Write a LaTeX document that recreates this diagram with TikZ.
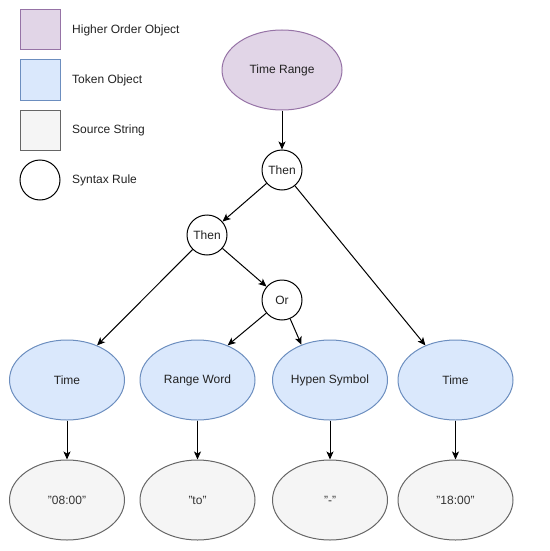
\documentclass[tikz,border=0pt]{standalone}
\usepackage{fontspec}
\setmainfont{Liberation Sans}
\usetikzlibrary{arrows.meta,shapes.geometric}
\definecolor{hoFill}{HTML}{E1D5E7}\definecolor{hoLine}{HTML}{9673A6}
\definecolor{tkFill}{HTML}{DAE8FC}\definecolor{tkLine}{HTML}{6C8EBF}
\definecolor{srFill}{HTML}{F5F5F5}\definecolor{srLine}{HTML}{666666}
\definecolor{txt}{HTML}{222222}
\begin{document}
\begin{tikzpicture}[x=1pt,y=-1pt,
  every node/.style={font=\fontsize{12}{14}\selectfont, text=txt},
  ell/.style={ellipse, draw, line width=1pt, minimum width=#1, minimum height=80pt, inner sep=0pt},
  ho/.style={ell=120pt, fill=hoFill, draw=hoLine},
  tk/.style={ell=115pt, fill=tkFill, draw=tkLine},
  sr/.style={ell=115pt, fill=srFill, draw=srLine, text=black!80},
  rule/.style={circle, draw, fill=white, line width=1pt, minimum size=40pt, inner sep=0pt},
  sq/.style={draw, line width=1pt, minimum size=40pt, inner sep=0pt},
  lbl/.style={anchor=west, inner sep=0pt},
  arr/.style={-{Stealth[length=8pt,width=7pt,inset=2pt]}, line width=1pt}]
\useasboundingbox (0,0) rectangle (549,551);
% legend
\node[sq, fill=hoFill, draw=hoLine] (lg1) at (40,30) {};
\node[sq, fill=tkFill, draw=tkLine] (lg2) at (40,80) {};
\node[sq, fill=srFill, draw=srLine] (lg3) at (40,130) {};
\node[rule] (lg4) at (40,180) {};
\node[lbl] (lt1) at (72,30) {Higher Order Object};
\node[lbl] (lt2) at (72,80) {Token Object};
\node[lbl] (lt3) at (72,130) {Source String};
\node[lbl] (lt4) at (72,180) {Syntax Rule};
% tree
\node[ho] (tr) at (282,70) {Time Range};
\node[rule] (then1) at (282,170) {Then};
\node[rule] (then2) at (207,235) {Then};
\node[rule] (or) at (282,300) {Or};
\node[tk] (time1) at (67,380) {Time};
\node[tk] (range) at (197.5,380) {Range Word};
\node[tk] (hyp) at (330,380) {Hypen Symbol};
\node[tk] (time2) at (455.5,380) {Time};
\node[sr] (s1) at (67,500) {"08:00"};
\node[sr] (s2) at (197.5,500) {"to"};
\node[sr] (s3) at (330,500) {"-"};
\node[sr] (s4) at (455.5,500) {"18:00"};
\draw[arr] (tr) -- (then1);
\draw[arr] (then1) -- (then2);
\draw[arr] (then2) -- (or);
\draw[arr] (then2) -- (time1.49);
\draw[arr] (then1) -- (time2.131);
\draw[arr] (or) -- (range.49);
\draw[arr] (or) -- (hyp.129);
\draw[arr] (time1) -- (s1);
\draw[arr] (range) -- (s2);
\draw[arr] (hyp) -- (s3);
\draw[arr] (time2) -- (s4);
\end{tikzpicture}
\end{document}
